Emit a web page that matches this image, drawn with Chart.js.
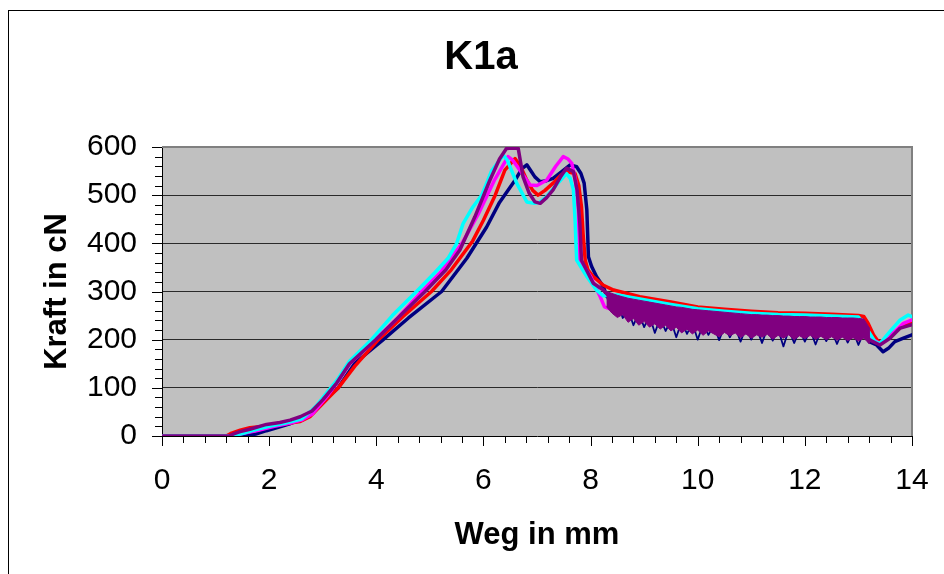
<!DOCTYPE html>
<html>
<head>
<meta charset="utf-8">
<script src="https://cdn.jsdelivr.net/npm/chart.js@4/dist/chart.umd.min.js"></script>
<style>
  html, body { margin: 0; padding: 0; background: #fff; }
  #wrap { width: 944px; height: 574px; position: relative; }
</style>
</head>
<body>
<div id="wrap"><canvas id="c" width="944" height="574"></canvas></div>
<script>
// Texts and axis labels
const chartTitle = 'K1a';
const xTitle = 'Weg in mm';
const yTitle = 'Kraft in cN';
const xLabels = [0, 2, 4, 6, 8, 10, 12, 14];
const yLabels = [0, 100, 200, 300, 400, 500, 600];

// Shared path positions of the noisy plateau
const tailWeg = [8.3, 8.4, 8.5, 8.6, 8.7, 8.8, 8.9, 9.0, 9.1, 9.2,
  9.3, 9.4, 9.5, 9.6, 9.7, 9.8, 9.9, 10.0, 10.1, 10.2,
  10.3, 10.4, 10.5, 10.6, 10.7, 10.8, 10.9, 11.0, 11.1, 11.2,
  11.3, 11.4, 11.5, 11.6, 11.7, 11.8, 11.9, 12.0, 12.1, 12.2,
  12.3, 12.4, 12.5, 12.6, 12.7, 12.8, 12.9, 13.0, 13.1, 13.2];

// Probe 1 (navy)
const weg1 = [0, 1.55, 1.75, 1.95, 2.2, 2.4, 2.6, 2.8, 3.0, 3.29,
  3.6, 4.13, 4.6, 5.22, 5.69, 6.06, 6.3, 6.59, 6.72, 6.81,
  6.9, 6.96, 7.06, 7.18, 7.3, 7.45, 7.62, 7.74, 7.82, 7.88,
  7.93, 7.96, 8.02, 8.11, 8.24,
  ...tailWeg,
  13.34, 13.46, 13.56, 13.68, 13.84, 14];
const kraft1 = [0, 0, 4, 11, 19, 26, 34, 48, 72, 100,
  151, 200, 245, 300, 369, 434, 485, 531, 555, 563,
  548, 538, 528, 530, 535, 548, 563, 559, 545, 525,
  470, 372, 352, 331, 310,
  290, 258, 280, 245, 262, 230, 255, 226, 250, 214,
  245, 218, 240, 205, 238, 212, 235, 200, 232, 210,
  230, 199, 228, 205, 226, 196, 225, 200, 224, 193,
  223, 198, 222, 186, 221, 193, 220, 196, 220, 190,
  219, 197, 218, 191, 218, 194, 217, 189, 215, 196,
  189, 175, 182, 196, 203, 210];

// Probe 2 (red)
const weg2 = [0, 1.2, 1.3, 1.46, 1.64, 1.95, 2.2, 2.39, 2.58, 2.76,
  3.07, 3.29, 3.6, 4.04, 4.5, 5.03, 5.4, 5.8, 6.0, 6.22,
  6.4, 6.59, 6.7, 6.81, 6.92, 7.02, 7.15, 7.3, 7.45, 7.55,
  7.71, 7.78, 7.83, 7.86, 7.9, 7.95, 8.05, 8.24, 8.43, 8.92,
  9.5, 10, 10.5, 11, 11.5, 12, 12.5, 13.0, 13.1, 13.18,
  13.28, 13.37, 13.5, 13.65, 13.84, 14];
const kraft2 = [0, 0, 6, 12, 17, 21, 24, 27, 30, 40,
  75, 100, 145, 200, 248, 300, 345, 405, 448, 500,
  552, 576, 558, 531, 510, 500, 510, 525, 542, 549,
  545, 520, 476, 420, 365, 345, 331, 313, 303, 289,
  278, 268, 263, 259, 256, 255, 253, 250, 248, 234,
  210, 196, 199, 213, 230, 234];

// Probe 3 (magenta)
const weg3 = [0, 1.3, 1.5, 1.8, 2.1, 2.4, 2.6, 2.8, 3.1, 3.26,
  3.5, 3.98, 4.4, 4.85, 5.2, 5.6, 5.9, 6.2, 6.46, 6.55,
  6.68, 6.87, 7.0, 7.18, 7.35, 7.49, 7.58, 7.65, 7.72, 7.77,
  7.8, 8.0, 8.18, 8.26, 8.5, 9, 10, 11, 12, 13,
  13.2, 13.4, 13.6, 13.84, 14];
const kraft3 = [0, 0, 5, 12, 20, 27, 33, 45, 85, 110,
  150, 200, 245, 300, 340, 400, 460, 530, 580, 572,
  552, 521, 520, 531, 560, 580, 575, 566, 530, 476,
  365, 331, 289, 268, 258, 248, 238, 232, 228, 224,
  205, 192, 208, 234, 241];

// Probe 4 (cyan)
const weg4 = [0, 1.3, 1.5, 1.7, 2.0, 2.3, 2.6, 2.76, 2.9, 3.07,
  3.26, 3.5, 3.91, 4.3, 4.75, 5.1, 5.34, 5.5, 5.62, 5.8,
  5.97, 6.15, 6.37, 6.45, 6.62, 6.81, 6.95, 7.05, 7.18, 7.35,
  7.55, 7.62, 7.68, 7.71, 7.74, 7.93, 8.11, 8.24, 8.5, 9.0,
  9.5, 10, 10.5, 11, 11.5, 12, 12.5, 13.0, 13.15, 13.31,
  13.4, 13.59, 13.78, 13.93, 14];
const kraft4 = [0, 0, 5, 12, 20, 27, 35, 50, 65, 89,
  115, 155, 200, 250, 300, 340, 369, 400, 441, 475,
  500, 550, 583, 572, 525, 486, 483, 485, 497, 520,
  545, 535, 511, 450, 365, 331, 303, 291, 293, 283,
  273, 264, 259, 255, 252, 251, 249, 247, 224, 196,
  192, 217, 241, 251, 248];

// Probe 5 (purple)
const weg5 = [0, 1.25, 1.35, 1.46, 1.64, 1.95, 2.2, 2.39, 2.58, 2.8,
  3.0, 3.26, 3.5, 3.99, 4.45, 4.91, 5.3, 5.56, 5.84, 6.12,
  6.3, 6.43, 6.55, 6.65, 6.74, 6.85, 6.96, 7.06, 7.18, 7.3,
  7.45, 7.55, 7.68, 7.75, 7.8, 7.83, 8.05, 8.24, 8.5, 9,
  10, 11, 12, 13, 13.2, 13.4, 13.59, 13.78, 14];
const kraft5 = [0, 0, 5, 9, 14, 24, 28, 33, 40, 52,
  75, 110, 150, 200, 250, 300, 345, 386, 455, 531,
  575, 597, 598, 597, 538, 505, 486, 483, 495, 511,
  540, 556, 549, 510, 441, 365, 317, 303, 270, 258,
  240, 228, 225, 220, 200, 189, 203, 224, 231];

// Probe 5 oscillation envelope on the plateau (upper and lower edge)
const kraft5Oben = [300, 296, 292, 289, 286, 284, 282, 280, 278, 276,
  274, 272, 270, 268, 267, 265, 263, 262, 261, 260,
  259, 258, 257, 256, 255, 254, 253, 252, 252, 251,
  251, 250, 250, 249, 249, 248, 248, 248, 247, 247,
  247, 246, 246, 246, 245, 245, 245, 244, 243, 225];
const kraft5Unten = [268, 255, 246, 252, 236, 244, 230, 238, 226, 233,
  222, 230, 218, 226, 214, 222, 212, 220, 209, 218,
  212, 206, 215, 208, 214, 204, 212, 203, 210, 205,
  211, 201, 209, 203, 210, 200, 208, 202, 209, 201,
  207, 200, 206, 199, 205, 198, 204, 197, 203, 192];

const NAVY = '#000080', RED = '#ff0000', MAGENTA = '#ff00ff', CYAN = '#00ffff', PURPLE = '#800080';

function points(xs, ys) {
  return xs.map((x, i) => ({ x: x, y: ys[i] }));
}

// closed outline: upper edge forward, lower edge backward
const bandPoints = points(tailWeg, kraft5Oben).concat(points(tailWeg, kraft5Unten).reverse());

function line(data, color, order) {
  return {
    data: data, borderColor: color, backgroundColor: color, borderWidth: 3.5,
    pointRadius: 0, tension: 0, fill: false, order: order,
    borderJoinStyle: 'round', borderCapStyle: 'round'
  };
}

const FONT = '"Liberation Sans", Arial, sans-serif';

const plotDecor = {
  id: 'plotDecor',
  beforeDraw(chart) {
    const { ctx, chartArea: a } = chart;
    ctx.save();
    ctx.fillStyle = '#ffffff';
    ctx.fillRect(0, 0, chart.width, chart.height);
    ctx.strokeStyle = '#000000';
    ctx.lineWidth = 1;
    ctx.strokeRect(8.5, 10.5, 1000, 1000);
    ctx.fillStyle = '#c0c0c0';
    ctx.fillRect(a.left, a.top, a.right - a.left, a.bottom - a.top);
    ctx.restore();
  },
  beforeDatasetsDraw(chart) {
    const { ctx, chartArea: a, scales } = chart;
    ctx.save();
    // plot frame, top and right
    ctx.strokeStyle = '#808080';
    ctx.lineWidth = 2;
    ctx.beginPath();
    ctx.moveTo(a.left, a.top);
    ctx.lineTo(a.right, a.top);
    ctx.lineTo(a.right, a.bottom);
    ctx.stroke();
    // tick marks: long ones at labelled values, short ones between
    ctx.strokeStyle = '#000000';
    ctx.lineWidth = 1;
    ctx.beginPath();
    scales.y.ticks.forEach(t => {
      const py = Math.round(scales.y.getPixelForValue(t.value)) + 0.5;
      const len = yLabels.includes(Math.round(t.value)) ? 10 : 7;
      ctx.moveTo(a.left - len, py);
      ctx.lineTo(a.left, py);
    });
    scales.x.ticks.forEach(t => {
      const px = Math.round(scales.x.getPixelForValue(t.value)) + 0.5;
      const v = Math.round(t.value * 10) / 10;
      const len = xLabels.includes(v) ? 10 : 7;
      ctx.moveTo(px, a.bottom);
      ctx.lineTo(px, a.bottom + len);
    });
    ctx.stroke();
    ctx.restore();
  },
  afterDraw(chart) {
    const { ctx, chartArea: a } = chart;
    ctx.save();
    ctx.fillStyle = '#000000';
    ctx.textAlign = 'center';
    ctx.textBaseline = 'alphabetic';
    ctx.font = 'bold 40px ' + FONT;
    ctx.fillText(chartTitle, 481, 69);
    ctx.font = 'bold 31px ' + FONT;
    ctx.fillText(xTitle, (a.left + a.right) / 2, 544);
    ctx.translate(66, (a.top + a.bottom) / 2);
    ctx.rotate(-Math.PI / 2);
    ctx.fillText(yTitle, 0, 0);
    ctx.restore();
  }
};

// thinner strokes for the navy trace inside the oscillating plateau
const navySet = line(points(weg1, kraft1), NAVY, 5);
navySet.segment = {
  borderWidth: s => (s.p0.parsed.x >= 8.25 && s.p1.parsed.x <= 13.25) ? 1.8 : undefined
};

new Chart(document.getElementById('c'), {
  type: 'line',
  data: {
    datasets: [
      Object.assign(line(bandPoints, PURPLE, 0), { borderWidth: 1, fill: 'shape' }),
      line(points(weg5, kraft5), PURPLE, 1),
      line(points(weg4, kraft4), CYAN, 2),
      line(points(weg3, kraft3), MAGENTA, 3),
      line(points(weg2, kraft2), RED, 4),
      navySet
    ]
  },
  options: {
    responsive: false,
    animation: false,
    devicePixelRatio: 1,
    layout: { padding: { left: 0, right: 32, top: 147, bottom: 0 } },
    plugins: { legend: { display: false }, tooltip: { enabled: false }, title: { display: false } },
    scales: {
      x: {
        type: 'linear', min: 0, max: 14,
        afterFit: s => { s.height = 138; },
        grid: { display: true, drawOnChartArea: false, drawTicks: true, tickLength: 20, color: 'rgba(0,0,0,0)', tickColor: 'rgba(0,0,0,0)' },
        border: { display: true, color: '#000000', width: 1 },
        ticks: {
          stepSize: 0.4, autoSkip: false, maxRotation: 0, minRotation: 0, padding: 7,
          color: '#000000', font: { family: FONT, size: 30 },
          callback: v => { const r = Math.round(v * 10) / 10; return xLabels.includes(r) ? String(r) : ''; }
        }
      },
      y: {
        type: 'linear', min: 0, max: 600,
        afterFit: s => { s.width = 162; },
        grid: {
          drawTicks: false, lineWidth: 1,
          color: c => (c.tick && yLabels.includes(c.tick.value) && c.tick.value > 0 && c.tick.value < 600) ? '#2a2a2a' : 'rgba(0,0,0,0)'
        },
        border: { display: true, color: '#000000', width: 1 },
        ticks: {
          stepSize: 20, autoSkip: false, padding: 25,
          color: '#000000', font: { family: FONT, size: 30 },
          callback: v => yLabels.includes(v) ? String(v) : ''
        }
      }
    }
  },
  plugins: [plotDecor]
});
</script>
</body>
</html>
